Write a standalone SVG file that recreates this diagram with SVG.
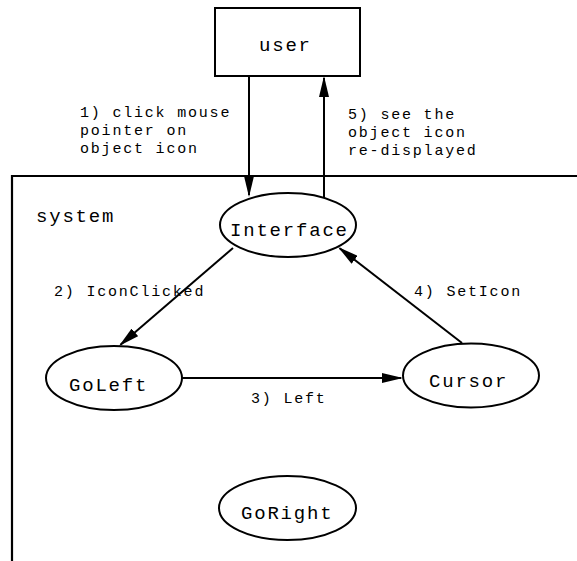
<svg xmlns="http://www.w3.org/2000/svg" width="577" height="561" viewBox="0 0 577 561">
<style>
  .node { fill: #ffffff; stroke: #000000; stroke-width: 2; }
  .frame { fill: none; stroke: #000000; stroke-width: 2.2; }
  .edge { fill: none; stroke: #000000; stroke-width: 2; marker-end: url(#arrow); }
  .lbl { font-family: "Liberation Mono", "Courier New", monospace; font-size: 19px; letter-spacing: 1.8px; fill: #000000; }
  .elbl { font-family: "Liberation Mono", "Courier New", monospace; font-size: 15px; letter-spacing: 1.8px; fill: #000000; }
</style>
<defs>
  <marker id="arrow" viewBox="0 0 21 10" refX="19" refY="5" markerWidth="21" markerHeight="10" markerUnits="userSpaceOnUse" orient="auto">
    <path d="M0,0 L21,5 L0,10 z" fill="#000000"/>
  </marker>
</defs>
<rect width="577" height="561" fill="#ffffff"/>
<g id="system">
  <path class="frame" d="M577,176 H12 V561"/>
  <text class="lbl" x="36" y="222">system</text>
</g>
<g id="user">
  <rect class="node" x="215" y="8" width="145" height="68"/>
  <text class="lbl" x="259" y="51">user</text>
</g>
<g id="interface">
  <ellipse class="node" cx="288" cy="225" rx="68" ry="32"/>
  <text class="lbl" x="230" y="236">Interface</text>
</g>
<g id="goleft">
  <ellipse class="node" cx="114" cy="378" rx="68" ry="32"/>
  <text class="lbl" x="69" y="391">GoLeft</text>
</g>
<g id="cursor">
  <ellipse class="node" cx="471" cy="375.5" rx="68" ry="32"/>
  <text class="lbl" x="429" y="387">Cursor</text>
</g>
<g id="goright">
  <ellipse class="node" cx="287.5" cy="508" rx="68.5" ry="32"/>
  <text class="lbl" x="241" y="519">GoRight</text>
</g>
<g id="connectors">
  <line class="edge" x1="249" y1="76" x2="249" y2="195"/>
  <line class="edge" x1="324" y1="198" x2="324" y2="78"/>
  <line class="edge" x1="233" y1="248" x2="120.5" y2="344.7"/>
  <line class="edge" x1="182" y1="378" x2="401" y2="378"/>
  <line class="edge" x1="462" y1="343" x2="339.6" y2="248.2"/>
  <text class="elbl" x="80" y="117">1) click mouse</text>
  <text class="elbl" x="80" y="135">pointer on</text>
  <text class="elbl" x="80" y="153">object icon</text>
  <text class="elbl" x="348" y="119">5) see the</text>
  <text class="elbl" x="348" y="137">object icon</text>
  <text class="elbl" x="348" y="155">re-displayed</text>
  <text class="elbl" x="54" y="296">2) IconClicked</text>
  <text class="elbl" x="414" y="296">4) SetIcon</text>
  <text class="elbl" x="251" y="403">3) Left</text>
</g>
</svg>
